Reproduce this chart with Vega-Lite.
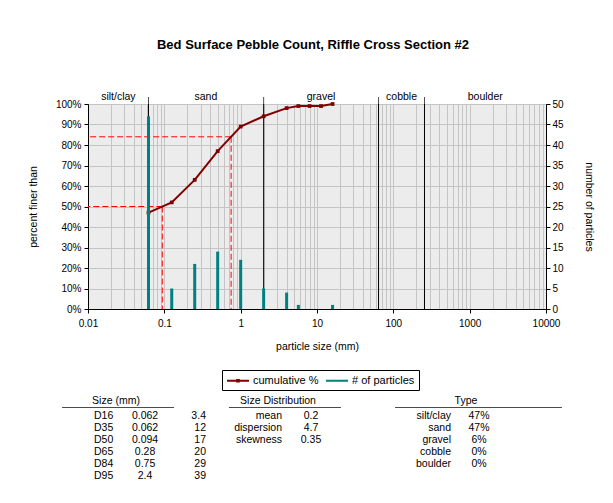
{
  "$schema": "https://vega.github.io/schema/vega-lite/v6.json",
  "width": 458,
  "height": 205,
  "autosize": "none",
  "padding": {"left": 88, "top": 104, "right": 67, "bottom": 194},
  "background": "white",
  "title": {"text": "Bed Surface Pebble Count, Riffle Cross Section #2", "fontSize": 13, "fontWeight": "bold", "font": "Liberation Sans", "frame": "group", "anchor": "middle", "offset": 40, "dx": -4, "color": "black"},
  "datasets": {
    "cum": [
      {"size": 0.062, "cum": 47}, {"size": 0.125, "cum": 52}, {"size": 0.25, "cum": 63},
      {"size": 0.5, "cum": 77}, {"size": 1, "cum": 89}, {"size": 2, "cum": 94},
      {"size": 4, "cum": 98}, {"size": 5.7, "cum": 99}, {"size": 8, "cum": 99},
      {"size": 11.3, "cum": 99}, {"size": 16, "cum": 100}
    ],
    "counts": [
      {"size": 0.062, "count": 47}, {"size": 0.125, "count": 5}, {"size": 0.25, "count": 11},
      {"size": 0.5, "count": 14}, {"size": 1, "count": 12}, {"size": 2, "count": 5},
      {"size": 4, "count": 4}, {"size": 5.7, "count": 1}, {"size": 16, "count": 1}
    ],
    "dlines": [
      {"d": "D50", "size": 0.094, "pct": 50},
      {"d": "D84", "size": 0.75, "pct": 84}
    ],
    "classes": [
      {"cls": "silt/clay", "mid": 0.025}, {"cls": "sand", "mid": 0.35},
      {"cls": "gravel", "mid": 11.3}, {"cls": "cobble", "mid": 128},
      {"cls": "boulder", "mid": 1600}
    ],
    "bounds": [{"b": 0.062}, {"b": 2}, {"b": 64}, {"b": 256}],
    "sizeTbl": [
      {"row": 1, "d": "D16", "mm": 0.062, "other": 3.4},
      {"row": 2, "d": "D35", "mm": 0.062, "other": 12},
      {"row": 3, "d": "D50", "mm": 0.094, "other": 17},
      {"row": 4, "d": "D65", "mm": 0.28, "other": 20},
      {"row": 5, "d": "D84", "mm": 0.75, "other": 29},
      {"row": 6, "d": "D95", "mm": 2.4, "other": 39}
    ],
    "distTbl": [
      {"row": 1, "k": "mean", "v": 0.2},
      {"row": 2, "k": "dispersion", "v": 4.7},
      {"row": 3, "k": "skewness", "v": 0.35}
    ],
    "typeTbl": [
      {"row": 1, "k": "silt/clay", "pct": 0.47},
      {"row": 2, "k": "sand", "pct": 0.47},
      {"row": 3, "k": "gravel", "pct": 0.06},
      {"row": 4, "k": "cobble", "pct": 0},
      {"row": 5, "k": "boulder", "pct": 0}
    ]
  },
  "layer": [
    {
      "layer": [
        {
          "data": {"name": "bounds"},
          "mark": {"type": "rule", "color": "black", "strokeWidth": 1},
          "encoding": {
            "x": {"field": "b", "type": "quantitative", "title": "particle size (mm)", "scale": {"type": "log", "domain": [0.01, 10000]}}
          }
        },
        {
          "data": {"name": "bounds"},
          "mark": {"type": "tick", "color": "black", "orient": "vertical", "size": 7, "thickness": 1},
          "encoding": {
            "x": {"field": "b", "type": "quantitative", "title": "particle size (mm)"},
            "y": {"datum": 101.7, "type": "quantitative", "title": "percent finer than", "scale": {"domain": [0, 100]},
              "axis": {"values": [0,10,20,30,40,50,60,70,80,90,100], "tickCount": 11, "labelExpr": "datum.value + '%'", "grid": true, "tickSize": 4, "labelPadding": 3, "titlePadding": 17}}
          }
        },
        {
          "data": {"name": "dlines"},
          "mark": {"type": "rule", "color": "#ff0000", "strokeDash": [6, 3], "strokeWidth": 1},
          "encoding": {
            "x": {"field": "size", "type": "quantitative", "title": "particle size (mm)"},
            "x2": {"datum": 0.01},
            "y": {"field": "pct", "type": "quantitative", "title": "percent finer than",
              "axis": {"values": [0,10,20,30,40,50,60,70,80,90,100], "tickCount": 11, "labelExpr": "datum.value + '%'", "grid": true, "tickSize": 4, "labelPadding": 3, "titlePadding": 17}}
          }
        },
        {
          "data": {"name": "dlines"},
          "mark": {"type": "rule", "color": "#ff0000", "strokeDash": [6, 3], "strokeWidth": 1},
          "encoding": {
            "x": {"field": "size", "type": "quantitative", "title": "particle size (mm)"},
            "y": {"field": "pct", "type": "quantitative", "title": "percent finer than",
              "axis": {"values": [0,10,20,30,40,50,60,70,80,90,100], "tickCount": 11, "labelExpr": "datum.value + '%'", "grid": true, "tickSize": 4, "labelPadding": 3, "titlePadding": 17}},
            "y2": {"datum": 0}
          }
        },
        {
          "data": {"name": "cum"},
          "mark": {"type": "line", "strokeWidth": 2, "point": {"filled": true, "shape": "square", "size": 14}},
          "encoding": {
            "x": {
              "field": "size", "type": "quantitative", "title": "particle size (mm)",
              "scale": {"type": "log", "domain": [0.01, 10000]},
              "axis": {
                "values": [0.01,0.02,0.03,0.04,0.05,0.06,0.07,0.08,0.09,0.1,0.2,0.3,0.4,0.5,0.6,0.7,0.8,0.9,1,2,3,4,5,6,7,8,9,10,20,30,40,50,60,70,80,90,100,200,300,400,500,600,700,800,900,1000,2000,3000,4000,5000,6000,7000,8000,9000,10000],
                "grid": true,
                "labelExpr": "indexof([0.01,0.1,1,10,100,1000,10000], datum.value) >= 0 ? '' + datum.value : ''",
                "tickOpacity": {"condition": {"test": "indexof([0.01,0.1,1,10,100,1000,10000], datum.value) >= 0", "value": 1}, "value": 0},
                "labelOverlap": false,
                "labelFlush": false,
                "tickSize": 4,
                "labelPadding": 5,
                "titlePadding": 13
              }
            },
            "y": {
              "field": "cum", "type": "quantitative", "title": "percent finer than",
              "scale": {"domain": [0, 100]},
              "axis": {"values": [0,10,20,30,40,50,60,70,80,90,100], "tickCount": 11, "labelExpr": "datum.value + '%'", "grid": true, "tickSize": 4, "labelPadding": 3, "titlePadding": 17}
            },
            "color": {"datum": "cumulative %", "type": "nominal", "scale": {"domain": ["cumulative %", "# of particles"], "range": ["#800000", "#008080"]},
              "legend": {"title": null, "encode": {"symbols": {"update": {"shape": {"signal": "datum.value === 'cumulative %' ? 'M-1,0H3M0.85,-0.15H1.15V0.15H0.85Z' : 'M-1,0H3'"}}}}}}
          }
        },
        {
          "data": {"name": "classes"},
          "mark": {"type": "text", "fontSize": 10.5, "baseline": "middle", "color": "black"},
          "encoding": {
            "x": {"field": "mid", "type": "quantitative", "title": "particle size (mm)"},
            "y": {"datum": 103.4, "type": "quantitative", "title": "percent finer than",
              "axis": {"values": [0,10,20,30,40,50,60,70,80,90,100], "tickCount": 11, "labelExpr": "datum.value + '%'", "grid": true, "tickSize": 4, "labelPadding": 3, "titlePadding": 17}},
            "text": {"field": "cls"}
          }
        }
      ]
    },
    {
      "data": {"name": "counts"},
      "mark": {"type": "rule", "strokeWidth": 3},
      "encoding": {
        "x": {"field": "size", "type": "quantitative", "scale": {"type": "log", "domain": [0.01, 10000]}, "axis": null},
        "y": {
          "field": "count", "type": "quantitative", "title": "number of particles",
          "scale": {"domain": [0, 50]},
          "axis": {"orient": "right", "values": [0,5,10,15,20,25,30,35,40,45,50], "grid": false, "tickSize": 4, "labelPadding": 2, "titlePadding": 20}
        },
        "y2": {"datum": 0},
        "color": {"datum": "# of particles", "type": "nominal", "legend": {"title": null}}
      }
    },
    {
      "layer": [
        {
          "data": {"name": "sizeTbl"},
          "mark": {"type": "text", "align": "left", "baseline": "middle", "fontSize": 10.5, "color": "black"},
          "encoding": {
            "x": {"datum": 1.3, "type": "quantitative", "scale": {"domain": [0, 100]}, "axis": null},
            "y": {"field": "row", "type": "quantitative", "scale": {"domain": [1, 6], "range": [311.7, 371.7]}, "axis": null},
            "text": {"field": "d", "type": "nominal"}
          }
        },
        {
          "data": {"name": "sizeTbl"},
          "mark": {"type": "text", "align": "center", "baseline": "middle", "fontSize": 10.5, "color": "black"},
          "encoding": {
            "x": {"datum": 12.45, "type": "quantitative", "axis": null},
            "y": {"field": "row", "type": "quantitative", "axis": null},
            "text": {"field": "mm", "type": "nominal"}
          }
        },
        {
          "data": {"name": "sizeTbl"},
          "mark": {"type": "text", "align": "right", "baseline": "middle", "fontSize": 10.5, "color": "black"},
          "encoding": {
            "x": {"datum": 25.76, "type": "quantitative", "axis": null},
            "y": {"field": "row", "type": "quantitative", "axis": null},
            "text": {"field": "other", "type": "nominal"}
          }
        },
        {
          "data": {"name": "distTbl"},
          "mark": {"type": "text", "align": "right", "baseline": "middle", "fontSize": 10.5, "color": "black"},
          "encoding": {
            "x": {"datum": 42.36, "type": "quantitative", "axis": null},
            "y": {"field": "row", "type": "quantitative", "axis": null},
            "text": {"field": "k", "type": "nominal"}
          }
        },
        {
          "data": {"name": "distTbl"},
          "mark": {"type": "text", "align": "center", "baseline": "middle", "fontSize": 10.5, "color": "black"},
          "encoding": {
            "x": {"datum": 48.69, "type": "quantitative", "axis": null},
            "y": {"field": "row", "type": "quantitative", "axis": null},
            "text": {"field": "v", "type": "nominal"}
          }
        },
        {
          "data": {"name": "typeTbl"},
          "mark": {"type": "text", "align": "right", "baseline": "middle", "fontSize": 10.5, "color": "black"},
          "encoding": {
            "x": {"datum": 79.26, "type": "quantitative", "axis": null},
            "y": {"field": "row", "type": "quantitative", "axis": null},
            "text": {"field": "k", "type": "nominal"}
          }
        },
        {
          "data": {"name": "typeTbl"},
          "mark": {"type": "text", "align": "center", "baseline": "middle", "fontSize": 10.5, "color": "black"},
          "encoding": {
            "x": {"datum": 85.37, "type": "quantitative", "axis": null},
            "y": {"field": "row", "type": "quantitative", "axis": null},
            "text": {"field": "pct", "type": "quantitative", "format": ".0%"}
          }
        },
        {
          "data": {"values": [{"h": "Size (mm)"}]},
          "mark": {"type": "text", "align": "center", "baseline": "middle", "fontSize": 10.5, "color": "black"},
          "encoding": {
            "x": {"datum": 6.11, "type": "quantitative", "axis": null},
            "y": {"datum": -0.25, "type": "quantitative", "axis": null},
            "text": {"field": "h", "type": "nominal"}
          }
        },
        {
          "data": {"values": [{"h": "Size Distribution"}]},
          "mark": {"type": "text", "align": "center", "baseline": "middle", "fontSize": 10.5, "color": "black"},
          "encoding": {
            "x": {"datum": 41.48, "type": "quantitative", "axis": null},
            "y": {"datum": -0.25, "type": "quantitative", "axis": null},
            "text": {"field": "h", "type": "nominal"}
          }
        },
        {
          "data": {"values": [{"h": "Type"}]},
          "mark": {"type": "text", "align": "center", "baseline": "middle", "fontSize": 10.5, "color": "black"},
          "encoding": {
            "x": {"datum": 82.53, "type": "quantitative", "axis": null},
            "y": {"datum": -0.25, "type": "quantitative", "axis": null},
            "text": {"field": "h", "type": "nominal"}
          }
        },
        {
          "data": {"values": [{"t": "Size (mm)"}]},
          "mark": {"type": "tick", "color": "black", "orient": "horizontal", "size": 112, "thickness": 1},
          "encoding": {
            "x": {"datum": 6.55, "type": "quantitative", "axis": null},
            "y": {"datum": 0.32, "type": "quantitative", "axis": null}
          }
        },
        {
          "data": {"values": [{"t": "Size Distribution"}]},
          "mark": {"type": "tick", "color": "black", "orient": "horizontal", "size": 112, "thickness": 1},
          "encoding": {
            "x": {"datum": 43.01, "type": "quantitative", "axis": null},
            "y": {"datum": 0.32, "type": "quantitative", "axis": null}
          }
        },
        {
          "data": {"values": [{"t": "Type"}]},
          "mark": {"type": "tick", "color": "black", "orient": "horizontal", "size": 167, "thickness": 1},
          "encoding": {
            "x": {"datum": 85.26, "type": "quantitative", "axis": null},
            "y": {"datum": 0.32, "type": "quantitative", "axis": null}
          }
        }
      ]
    }
  ],
  "resolve": {"scale": {"x": "independent", "y": "independent"}},
  "config": {
    "font": "Liberation Sans",
    "view": {"fill": "#ececec", "stroke": "black", "strokeWidth": 1},
    "axis": {"labelFont": "Liberation Sans", "titleFont": "Liberation Sans", "labelFontSize": 10, "titleFontSize": 10.5, "titleFontWeight": "normal", "labelColor": "black", "titleColor": "black", "domainColor": "black", "tickColor": "black", "gridColor": "#c4c4c4", "gridWidth": 1},
    "legend": {"orient": "none", "legendX": 134, "legendY": 266, "direction": "horizontal", "symbolType": "M-1,0H3", "symbolSize": 121, "symbolStrokeWidth": 2, "labelFontSize": 11, "labelFont": "Liberation Sans", "labelColor": "black", "strokeColor": "black", "fillColor": "white", "padding": 4, "columnPadding": 3, "labelOffset": 14}
  }
}
